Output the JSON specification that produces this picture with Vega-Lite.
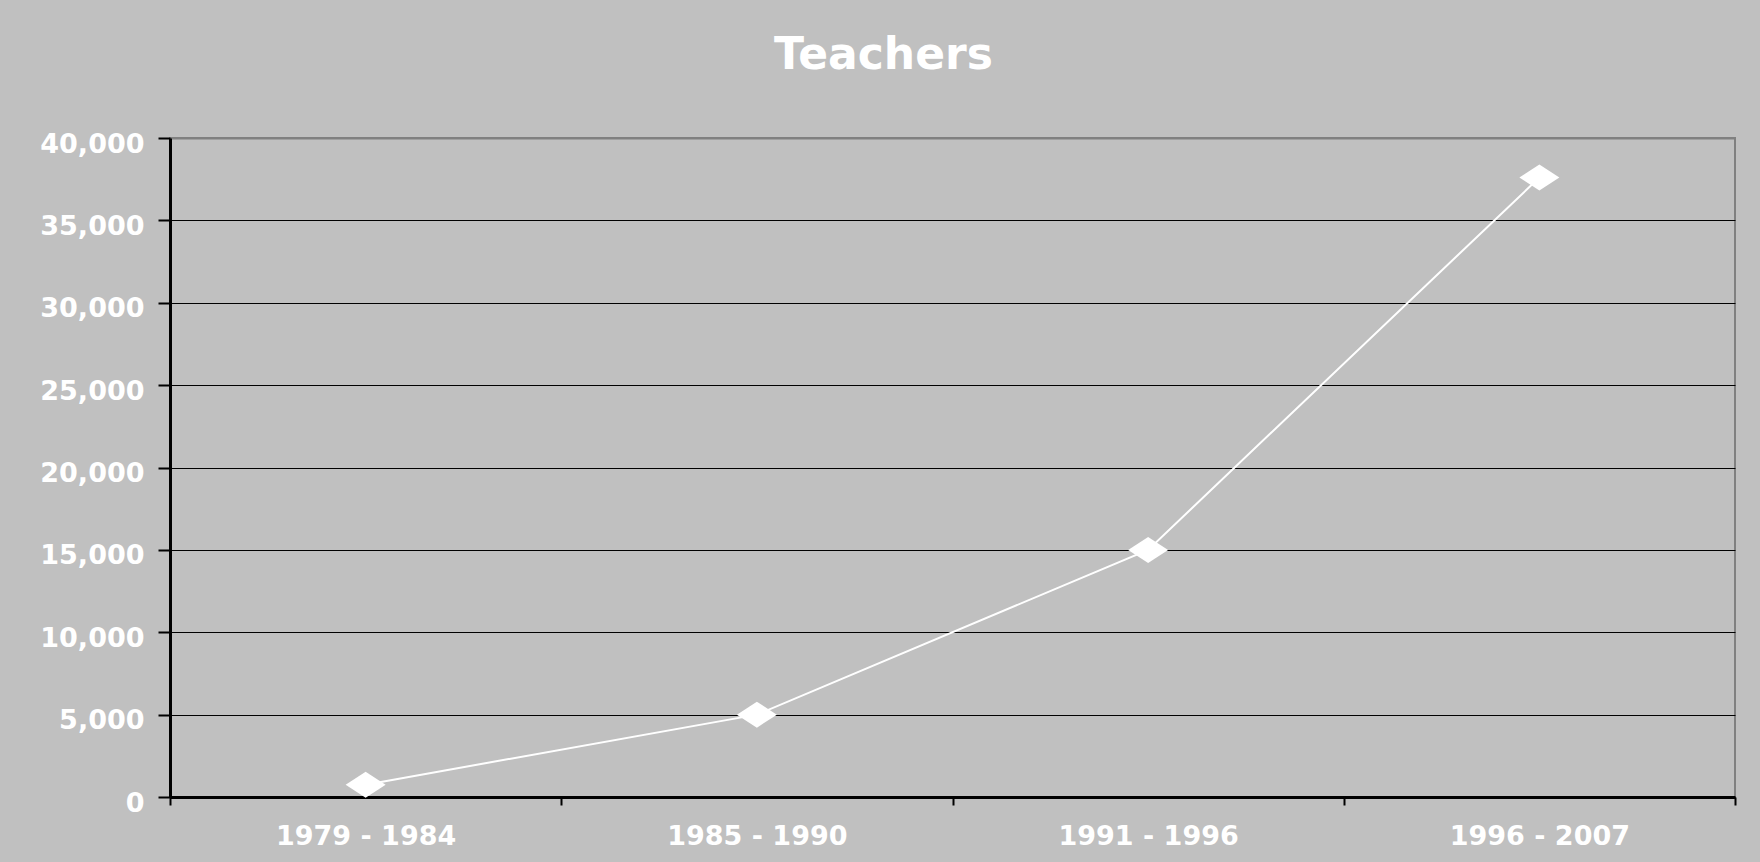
{
  "$schema": "https://vega.github.io/schema/vega-lite/v6.json",
  "autosize": {"type": "none"},
  "width": 1565,
  "height": 659,
  "padding": {"left": 170, "top": 138, "right": 25, "bottom": 65},
  "background": "#c0c0c0",
  "config": {
    "view": {"stroke": "#808080", "strokeWidth": 2, "fill": "#c0c0c0"},
    "font": "DejaVu Sans"
  },
  "title": {
    "text": "Teachers",
    "font": "DejaVu Sans",
    "fontSize": 44,
    "fontWeight": "bold",
    "color": "white",
    "anchor": "middle",
    "baseline": "alphabetic",
    "offset": 17,
    "dx": -69
  },
  "data": {
    "values": [
      {"period": "1979 - 1984", "teachers": 750},
      {"period": "1985 - 1990", "teachers": 5000},
      {"period": "1991 - 1996", "teachers": 15000},
      {"period": "1996 - 2007", "teachers": 37600}
    ]
  },
  "encoding": {
    "x": {
      "field": "period",
      "type": "ordinal",
      "sort": null,
      "scale": {"paddingInner": 0, "paddingOuter": 0},
      "axis": {
        "title": null,
        "labelAngle": 0,
        "labelLimit": 400,
        "tickBand": "extent",
        "grid": false,
        "domainColor": "black",
        "domainWidth": 3,
        "tickColor": "black",
        "tickWidth": 2,
        "tickSize": 8,
        "labelPadding": 18,
        "labelBaseline": "top",
        "labelFont": "DejaVu Sans",
        "labelFontSize": 27,
        "labelFontWeight": "bold",
        "labelColor": "white"
      }
    },
    "y": {
      "field": "teachers",
      "type": "quantitative",
      "scale": {"domain": [0, 40000], "nice": false},
      "axis": {
        "title": null,
        "values": [0, 5000, 10000, 15000, 20000, 25000, 30000, 35000, 40000],
        "format": ",d",
        "grid": true,
        "gridColor": {"condition": {"test": "datum.value == 40000", "value": "#808080"}, "value": "black"},
        "gridWidth": {"condition": {"test": "datum.value == 40000", "value": 2}, "value": 1},
        "gridOpacity": 1,
        "domainColor": "black",
        "domainWidth": 3,
        "tickColor": "black",
        "tickWidth": 2,
        "tickSize": 12,
        "labelPadding": 14,
        "labelLimit": 300,
        "labelBaseline": "middle",
        "labelOffset": 6,
        "labelFont": "DejaVu Sans",
        "labelFontSize": 27,
        "labelFontWeight": "bold",
        "labelColor": "white"
      }
    }
  },
  "layer": [
    {"mark": {"type": "line", "color": "white", "strokeWidth": 2}},
    {
      "mark": {
        "type": "point",
        "shape": "M-1,0L0,-0.65L1,0L0,0.65Z",
        "size": 1600,
        "filled": true,
        "fill": "white",
        "fillOpacity": 1,
        "strokeWidth": 0,
        "opacity": 1
      }
    }
  ]
}
